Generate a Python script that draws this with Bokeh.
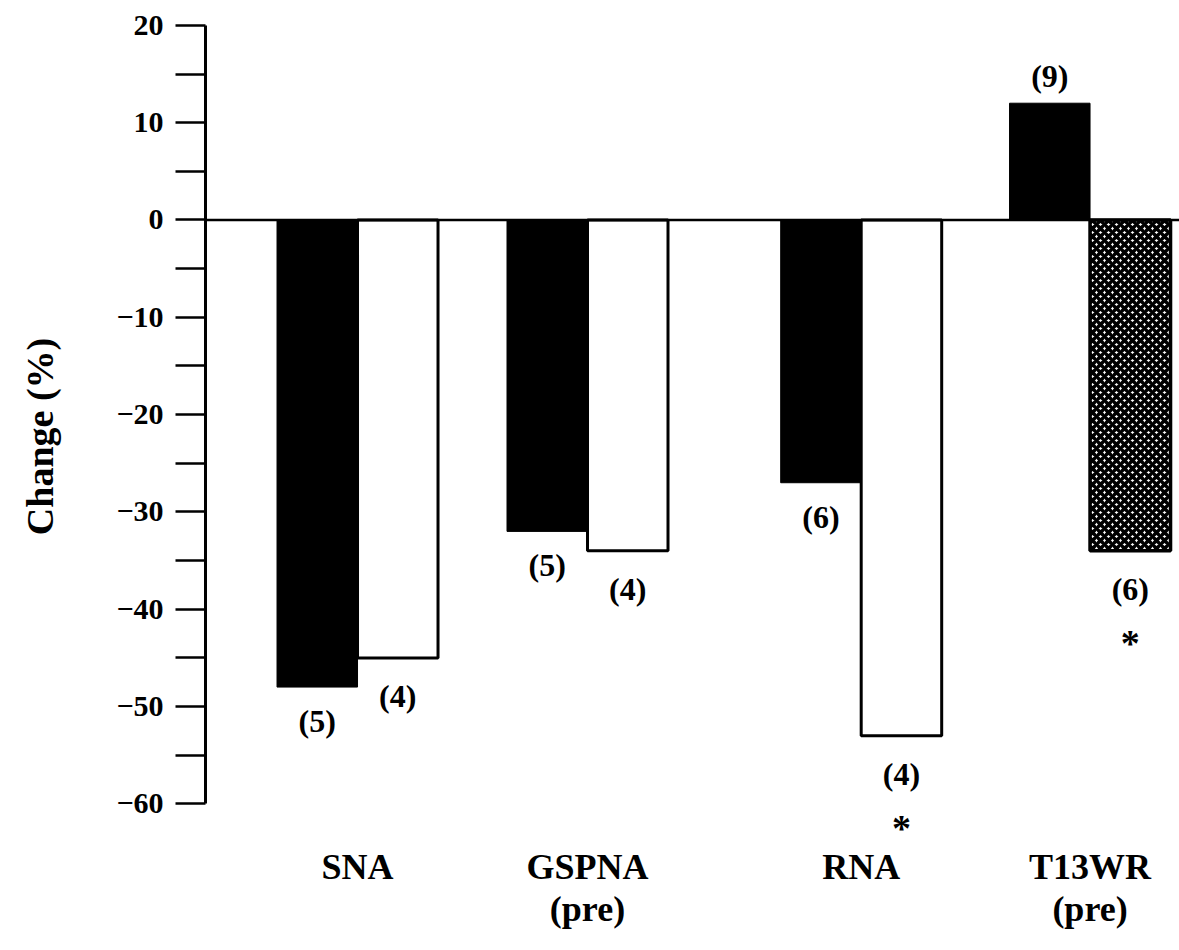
from bokeh.plotting import figure
from bokeh.models import (ColumnDataSource, Range1d, LinearAxis, FixedTicker, Span)
from bokeh.core.properties import value
from bokeh.embed import file_html
from bokeh.resources import INLINE

# ---- data ----
categories = ["SNA", "GSPNA\n(pre)", "RNA", "T13WR\n(pre)"]
series_black = [-48, -32, -27, 12]
series_second = [-45, -34, -53, -34]
n_black = ["(5)", "(5)", "(6)", "(9)"]
n_second = ["(4)", "(4)", "(4)", "(6)"]
sig_second = [False, False, True, True]
hatched_second = [False, False, False, True]
y_ticks = [-60, -50, -40, -30, -20, -10, 0, 10, 20]

# ---- layout ----
group_x = [1.0, 2.0, 3.19, 4.185]
bar_w = 0.35
SERIF = "Liberation Serif"

p = figure(width=1179, height=950, output_backend="svg", toolbar_location=None,
           x_range=Range1d(0.339, 4.574), y_range=Range1d(-65, 20.5),
           x_axis_type=None, y_axis_type=None,
           min_border_left=205, min_border_right=0, min_border_top=20, min_border_bottom=98)
p.outline_line_color = None
p.xgrid.visible = False
p.ygrid.visible = False
p.background_fill_color = "white"
p.border_fill_color = "white"

# y axis
yax = LinearAxis(bounds=(-60, 20), ticker=FixedTicker(ticks=y_ticks, minor_ticks=list(range(-55, 20, 10))))
yax.axis_line_width = 3
yax.major_tick_line_width = 2.5
yax.minor_tick_line_width = 2.5
yax.major_tick_out = 30
yax.major_tick_in = 0
yax.minor_tick_out = 30
yax.minor_tick_in = 0
yax.major_label_standoff = 12
yax.major_label_text_font = SERIF
yax.major_label_text_font_style = "bold"
yax.major_label_text_font_size = "30px"
yax.major_label_text_color = "black"
yax.major_label_overrides = {t: ("\u2212" + str(-t) if t < 0 else str(t)) for t in y_ticks}
yax.axis_label = "Change (%)"
yax.axis_label_text_font = SERIF
yax.axis_label_text_font_style = "bold"
yax.axis_label_text_font_size = "38px"
yax.axis_label_text_color = "black"
yax.axis_label_standoff = 52
p.add_layout(yax, "left")

# x axis: category labels only
xax = LinearAxis(ticker=FixedTicker(ticks=group_x, minor_ticks=[]))
xax.axis_line_color = None
xax.major_tick_line_color = None
xax.major_label_overrides = {x: c for x, c in zip(group_x, categories)}
xax.major_label_text_font = SERIF
xax.major_label_text_font_style = "bold"
xax.major_label_text_font_size = "36px"
xax.major_label_text_line_height = 1.05
xax.major_label_text_color = "black"
xax.major_label_standoff = -12
p.add_layout(xax, "below")

# zero line
p.add_layout(Span(location=0, dimension="width", line_color="black", line_width=2.5))

xb = [g - bar_w / 2 for g in group_x]
xs = [g + bar_w / 2 for g in group_x]

src_b = ColumnDataSource(dict(x=xb, top=series_black, lab=n_black,
                              off=[-27 if v > 0 else 34 for v in series_black]))
p.vbar(x="x", top="top", bottom=0, width=bar_w, source=src_b,
       fill_color="black", line_color="black", line_width=1)

plain = [i for i, h in enumerate(hatched_second) if not h]
hat = [i for i, h in enumerate(hatched_second) if h]
src_w = ColumnDataSource(dict(x=[xs[i] for i in plain], top=[series_second[i] for i in plain]))
p.vbar(x="x", top="top", bottom=0, width=bar_w, source=src_w,
       fill_color="white", line_color="black", line_width=3)
src_h = ColumnDataSource(dict(x=[xs[i] for i in hat], top=[series_second[i] for i in hat]))
p.vbar(x="x", top="top", bottom=0, width=bar_w, source=src_h,
       fill_color="white", line_color="black", line_width=3.5,
       hatch_pattern="diagonal_cross", hatch_color="black", hatch_weight=3.5, hatch_scale=8)

# n labels
p.text(x="x", y="top", text="lab", y_offset="off", source=src_b,
       text_font=value(SERIF), text_font_style="bold", text_font_size="32px",
       text_align="center", text_baseline="middle", text_color="black")
src_n2 = ColumnDataSource(dict(x=xs, top=series_second, lab=n_second,
                               off=[-27 if v > 0 else 38 for v in series_second]))
p.text(x="x", y="top", text="lab", y_offset="off", source=src_n2,
       text_font=value(SERIF), text_font_style="bold", text_font_size="32px",
       text_align="center", text_baseline="middle", text_color="black")

sig_idx = [i for i, s in enumerate(sig_second) if s]
src_sig = ColumnDataSource(dict(x=[xs[i] for i in sig_idx], top=[series_second[i] for i in sig_idx],
                                lab=["*"] * len(sig_idx)))
p.text(x="x", y="top", text="lab", y_offset=92, source=src_sig,
       text_font=value(SERIF), text_font_style="bold", text_font_size="38px",
       text_align="center", text_baseline="middle", text_color="black")

open("out.html", "w").write(file_html(p, INLINE))
